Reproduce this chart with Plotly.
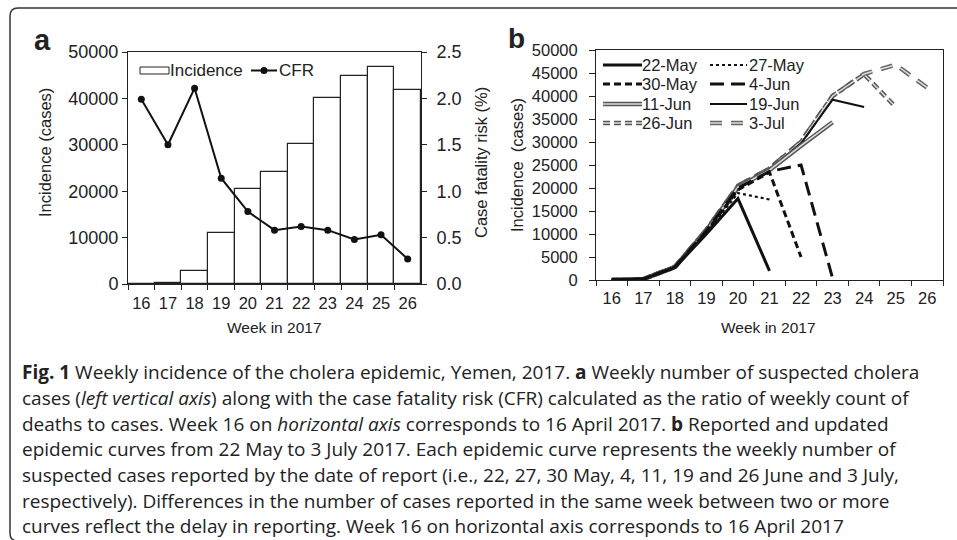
import plotly.graph_objects as go

# ---------------- data ----------------
weeks = ["16", "17", "18", "19", "20", "21", "22", "23", "24", "25", "26"]

# panel a
incidence = [0, 250, 2900, 10900, 20500, 24200, 30100, 40000, 44800, 46800, 41800]
cfr = [1.99, 1.50, 2.11, 1.14, 0.78, 0.58, 0.62, 0.58, 0.48, 0.53, 0.27]

# panel b: epidemic curves by date of report
report_dates = ["22-May", "27-May", "30-May", "4-Jun", "11-Jun", "19-Jun", "26-Jun", "3-Jul"]
cases_22may = [0, 200, 2700, 10000, 17700, 2000]
cases_27may = [0, 200, 2700, 10300, 18900, 17500]
cases_30may = [0, 200, 2750, 10500, 19600, 23400, 5000]
cases_4jun = [0, 200, 2800, 10700, 20000, 23600, 25000, 400]
cases_11jun = [0, 200, 2800, 10800, 20200, 23900, 29200, 34300]
cases_19jun = [0, 200, 2800, 10800, 20300, 24000, 29700, 39200, 37600]
cases_26jun = [0, 200, 2800, 10900, 20400, 24200, 30000, 40000, 44700, 37600]
cases_3jul = [0, 200, 2900, 10900, 20500, 24200, 30100, 40000, 44800, 46800, 41800]
curves = [cases_22may, cases_27may, cases_30may, cases_4jun,
          cases_11jun, cases_19jun, cases_26jun, cases_3jul]

# ---------------- styles ----------------
W, H = 957, 540
FONT = "Liberation Sans"
TXT = "#222222"
LINE = "#222222"

def X(px):
    return px / W

def Y(py):
    return 1 - py / H

styles = {
    "22-May": dict(color="#111111", width=3, dash="solid", double=False),
    "27-May": dict(color="#111111", width=2.2, dash="dot", double=False),
    "30-May": dict(color="#111111", width=3, dash="7px,4px", double=False),
    "4-Jun": dict(color="#111111", width=3, dash="14px,7px", double=False),
    "11-Jun": dict(color="#555555", width=4.5, dash="solid", double=True),
    "19-Jun": dict(color="#111111", width=2, dash="solid", double=False),
    "26-Jun": dict(color="#555555", width=4.5, dash="7px,4px", double=True),
    "3-Jul": dict(color="#666666", width=4.5, dash="12px,9px", double=True),
}
INNER = "#dddddd"

fig = go.Figure()

# panel a bars + CFR
fig.add_trace(go.Bar(x=weeks, y=incidence, name="Incidence",
                     marker=dict(color="white", line=dict(color=LINE, width=1.2)),
                     xaxis="x", yaxis="y"))
fig.add_trace(go.Scatter(x=weeks, y=cfr, name="CFR", mode="lines+markers",
                         line=dict(color="#111111", width=2),
                         marker=dict(color="#111111", size=7),
                         xaxis="x", yaxis="y2"))

# panel b curves (latest first so early reports lie on top)
for name, vals in reversed(list(zip(report_dates, curves))):
    st = styles[name]
    xs = weeks[:len(vals)]
    fig.add_trace(go.Scatter(x=xs, y=vals, mode="lines", name=name,
                             line=dict(color=st["color"], width=st["width"], dash=st["dash"]),
                             xaxis="x2", yaxis="y3"))
    if st["double"]:
        fig.add_trace(go.Scatter(x=xs, y=vals, mode="lines", name=name,
                                 line=dict(color=INNER, width=1.5, dash=st["dash"]),
                                 xaxis="x2", yaxis="y3"))

axis_common = dict(showgrid=False, zeroline=False, showline=True, linecolor=LINE,
                   linewidth=1, ticks="outside", ticklen=5, tickcolor=LINE, automargin=False,
                   tickfont=dict(family=FONT, size=16.5, color=TXT))

fig.update_layout(
    width=W, height=H, margin=dict(l=0, r=0, t=0, b=0, autoexpand=False),
    paper_bgcolor="white", plot_bgcolor="white", showlegend=False,
    bargap=0,
    xaxis=dict(axis_common, domain=[X(128), X(421)], anchor="y", type="category",
               range=[-0.5, 10.5], tickson="boundaries", mirror=True, tickangle=0,
               ticklabelstandoff=4, tickfont=dict(family=FONT, size=16.5, color=TXT)),
    yaxis=dict(axis_common, domain=[Y(284), Y(52)], anchor="x", range=[0, 50000],
               dtick=10000, tickformat="d",
               tickfont=dict(family=FONT, size=18, color=TXT)),
    yaxis2=dict(axis_common, overlaying="y", side="right", anchor="x",
                range=[0, 2.5], dtick=0.5, tickformat=".1f", ticklabelstandoff=6,
                tickfont=dict(family=FONT, size=18, color=TXT)),
    xaxis2=dict(axis_common, domain=[X(596), X(943)], anchor="y3", type="category",
                range=[-0.5, 10.5], tickson="boundaries", mirror=True, tickangle=0,
                ticklabelstandoff=3),
    yaxis3=dict(axis_common, domain=[Y(280), Y(50)], anchor="x2", range=[0, 50000],
                dtick=5000, tickformat="d", mirror=True, ticklen=6, ticklabelstandoff=8),
)

shapes = []
annotations = []

def text(x, y, s, size, xanchor="left", angle=0, family=FONT, color=TXT):
    annotations.append(dict(x=X(x), y=Y(y), xref="paper", yref="paper", text=s,
                            showarrow=False, xanchor=xanchor, yanchor="middle",
                            textangle=angle, font=dict(family=family, size=size, color=color)))

# outer rounded frame
x0, y0, x1, y1, r = 10, 8, 980, 541, 8
path = (f"M {X(x1)},{Y(y0)} L {X(x0 + r)},{Y(y0)} Q {X(x0)},{Y(y0)} {X(x0)},{Y(y0 + r)} "
        f"L {X(x0)},{Y(y1 - r)} Q {X(x0)},{Y(y1)} {X(x0 + r)},{Y(y1)} L {X(x1)},{Y(y1)}")
shapes.append(dict(type="path", xref="paper", yref="paper", path=path,
                   line=dict(color="#333333", width=1.5)))

# panel labels
text(32, 40, "<b>a</b>", 29)
text(506, 38, "<b>b</b>", 28)

# axis titles
text(45, 153, "Incidence (cases)", 16.5, xanchor="center", angle=-90)
text(481, 163, "Case fatality risk (%)", 16.5, xanchor="center", angle=-90)
text(517, 165, "Incidence  (cases)", 16.5, xanchor="center", angle=-90)
text(274, 327, "Week in 2017", 15.5, xanchor="center")
text(768, 327, "Week in 2017", 15.5, xanchor="center")

# legend panel a
shapes.append(dict(type="rect", xref="paper", yref="paper", x0=X(140), x1=X(169),
                   y0=Y(74), y1=Y(67), fillcolor="white", line=dict(color=LINE, width=1)))
text(168, 70, "Incidence", 17)
shapes.append(dict(type="line", xref="paper", yref="paper", x0=X(251), x1=X(277),
                   y0=Y(70.5), y1=Y(70.5), line=dict(color="#111111", width=2)))
shapes.append(dict(type="circle", xref="paper", yref="paper", x0=X(260.5), x1=X(267.5),
                   y0=Y(74), y1=Y(67), fillcolor="#111111", line=dict(color="#111111", width=0)))
text(277, 70, "CFR", 17)

# legend panel b (two columns)
rows = [65, 84, 104, 123]
for i, name in enumerate(report_dates):
    col, row = i % 2, i // 2
    lx0, lx1, tx = (603, 642, 640) if col == 0 else (710, 747, 747)
    yy = rows[row]
    st = styles[name]
    shapes.append(dict(type="line", xref="paper", yref="paper", x0=X(lx0), x1=X(lx1),
                       y0=Y(yy), y1=Y(yy),
                       line=dict(color=st["color"], width=st["width"], dash=st["dash"])))
    if st["double"]:
        shapes.append(dict(type="line", xref="paper", yref="paper", x0=X(lx0), x1=X(lx1),
                           y0=Y(yy), y1=Y(yy),
                           line=dict(color=INNER, width=1.5, dash=st["dash"])))
    text(tx, yy, name, 16.5)

# caption
CAP = "Open Sans"
caption_lines = [
    "<b>Fig. 1</b> Weekly incidence of the cholera epidemic, Yemen, 2017. <b>a</b> Weekly number of suspected cholera",
    "cases (<i>left vertical axis</i>) along with the case fatality risk (CFR) calculated as the ratio of weekly count of",
    "deaths to cases. Week 16 on <i>horizontal axis</i> corresponds to 16 April 2017. <b>b</b> Reported and updated",
    "epidemic curves from 22 May to 3 July 2017. Each epidemic curve represents the weekly number of",
    "suspected cases reported by the date of report (i.e., 22, 27, 30 May, 4, 11, 19 and 26 June and 3 July,",
    "respectively). Differences in the number of cases reported in the same week between two or more",
    "curves reflect the delay in reporting. Week 16 on horizontal axis corresponds to 16 April 2017",
]
cap_y = [372, 398, 423.5, 449, 475, 500.5, 526]
for s, yy in zip(caption_lines, cap_y):
    text(20, yy, s, 19, family=CAP)

fig.update_layout(shapes=shapes, annotations=annotations)
fig.write_html("out.html", config={"displayModeBar": False},
               post_script="document.body.style.margin='0';document.body.style.overflow='hidden';")
